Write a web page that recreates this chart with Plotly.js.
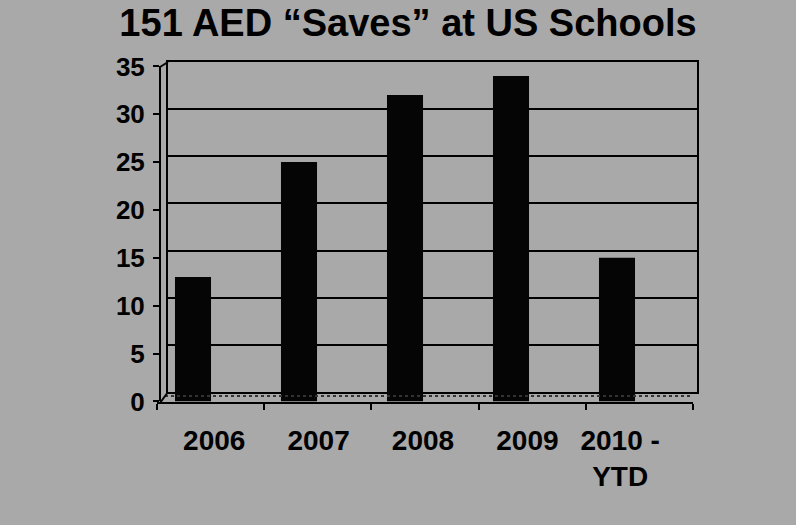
<!DOCTYPE html>
<html>
<head>
<meta charset="utf-8">
<script src="https://cdn.plot.ly/plotly-3.0.1.min.js"></script>
<style>html,body{margin:0;padding:0;background:#a9a9a9;}#chart{width:796px;height:525px;}</style>
</head>
<body>
<div id="chart"></div>
<script>
// ---- data ----
const categories = ['2006', '2007', '2008', '2009', '2010 - YTD'];
const saves = [13, 25, 32, 34, 15];
const tickLabels = ['2006', '2007', '2008', '2009', '2010 -\u00A0\u00A0\u00A0<br>YTD\u00A0\u00A0\u00A0'];
const titleText = '151 AED \u201CSaves\u201D at US Schools';
const yTicks = [0, 5, 10, 15, 20, 25, 30, 35];

// ---- helpers: pixel -> paper ----
const W = 796, H = 525;
const px = v => v / W;
const py = v => 1 - v / H;

const font = {family: 'Liberation Sans, Arial, sans-serif', color: '#000'};
const hidden = {type: 'bar', x: categories, y: saves, marker: {color: 'rgba(0,0,0,0)'},
                hoverinfo: 'skip', showlegend: false};

const traces = [
  // back wall (gridlines)
  {type: 'scatter', x: [0.5], y: [0], xaxis: 'x', yaxis: 'y', mode: 'markers',
   marker: {opacity: 0}, hoverinfo: 'skip', showlegend: false},
  // bars
  {type: 'bar', x: categories, y: saves, xaxis: 'x2', yaxis: 'y2',
   marker: {color: '#050505', line: {width: 0}}, width: 0.34,
   hoverinfo: 'skip', showlegend: false},
  // front category axis (line + ticks)
  Object.assign({}, hidden, {xaxis: 'x3', yaxis: 'y2'}),
  // category labels
  Object.assign({}, hidden, {xaxis: 'x4', yaxis: 'y2'})
];

const layout = {
  width: W, height: H,
  margin: {l: 0, r: 0, t: 0, b: 0},
  paper_bgcolor: '#a9a9a9',
  plot_bgcolor: 'rgba(0,0,0,0)',
  showlegend: false,
  title: {text: titleText, x: px(408), xanchor: 'center', y: py(23), yanchor: 'middle',
          font: Object.assign({}, font, {size: 38, weight: 'bold'})},
  xaxis: {domain: [px(168), px(697)], anchor: 'y', range: [0, 1], showline: true, mirror: true,
          linecolor: '#000', linewidth: 2, showgrid: false, zeroline: false, showticklabels: false, ticks: ''},
  yaxis: {domain: [py(392), py(62)], anchor: 'x', range: [0, 35], tickvals: yTicks, showgrid: true,
          gridcolor: '#000', gridwidth: 2, showline: true, mirror: true, linecolor: '#000', linewidth: 2,
          zeroline: false, showticklabels: false, ticks: ''},
  xaxis2: {domain: [px(140), px(670)], anchor: 'y2', type: 'category', showline: false, showgrid: false,
           zeroline: false, showticklabels: false, ticks: ''},
  yaxis2: {domain: [py(401.4), py(66.4)], anchor: 'free', position: px(160), range: [0, 35],
           tickvals: yTicks, showgrid: false, zeroline: false, showline: true, linecolor: '#000', linewidth: 2,
           ticks: 'outside', ticklen: 6, tickwidth: 2, tickcolor: '#000', ticklabelstandoff: 3,
           tickfont: Object.assign({}, font, {size: 26, weight: 'bold'})},
  xaxis3: {domain: [px(157), px(693)], anchor: 'free', position: py(403), type: 'category',
           showline: true, linecolor: '#000', linewidth: 2, showgrid: false, zeroline: false,
           ticks: 'outside', tickson: 'boundaries', ticklen: 6, tickwidth: 2, tickcolor: '#000',
           showticklabels: false},
  xaxis4: {domain: [px(162), px(684)], anchor: 'free', position: py(403), type: 'category',
           showline: false, showgrid: false, zeroline: false, ticks: '',
           tickvals: categories, ticktext: tickLabels, ticklabelstandoff: 18,
           tickfont: Object.assign({}, font, {size: 28, weight: 'bold'})},
  shapes: [
    {type: 'line', xref: 'paper', yref: 'paper', x0: px(165), x1: px(693), y0: py(396), y1: py(396),
     line: {color: '#333', width: 2, dash: 'dot'}},
    {type: 'line', xref: 'paper', yref: 'paper', x0: px(160), x1: px(168), y0: py(67), y1: py(62),
     line: {color: '#000', width: 2}},
    {type: 'line', xref: 'paper', yref: 'paper', x0: px(160), x1: px(168), y0: py(403), y1: py(392),
     line: {color: '#000', width: 2}}
  ]
};

Plotly.newPlot('chart', traces, layout, {staticPlot: true, displayModeBar: false});
</script>
</body>
</html>
